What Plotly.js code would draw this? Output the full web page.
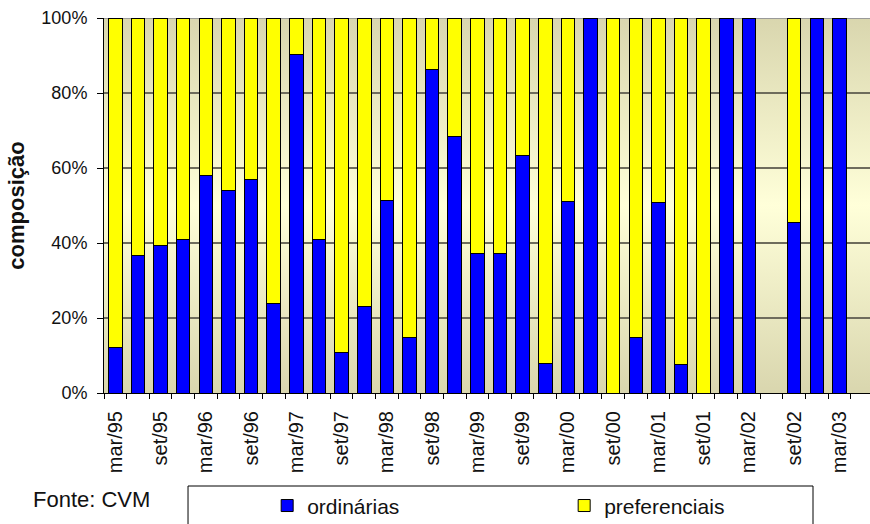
<!DOCTYPE html>
<html>
<head>
<meta charset="utf-8">
<script src="https://cdn.plot.ly/plotly-3.0.1.min.js"></script>
<style>
  html, body { margin: 0; padding: 0; background: #ffffff; }
  #wrap { position: relative; width: 870px; height: 524px; }
  #bg { position: absolute; left: 104px; top: 18px; width: 766px; height: 375px;
        background: linear-gradient(to bottom, #D9D6AE 0%, #FFFFD9 50%, #D9D6AE 100%); }
  #chart { position: absolute; left: 0; top: 0; width: 870px; height: 524px; }
</style>
</head>
<body>
<div id="wrap"><div id="bg"></div><div id="chart"></div></div>
<script>
// Quarterly categories
const categories = [
  "mar/95","jun/95","set/95","dez/95",
  "mar/96","jun/96","set/96","dez/96",
  "mar/97","jun/97","set/97","dez/97",
  "mar/98","jun/98","set/98","dez/98",
  "mar/99","jun/99","set/99","dez/99",
  "mar/00","jun/00","set/00","dez/00",
  "mar/01","jun/01","set/01","dez/01",
  "mar/02","jun/02","set/02","dez/02",
  "mar/03"
];
// Tick labels (only every second quarter is labelled)
const tickLabels = [
  "mar/95","","set/95","",
  "mar/96","","set/96","",
  "mar/97","","set/97","",
  "mar/98","","set/98","",
  "mar/99","","set/99","",
  "mar/00","","set/00","",
  "mar/01","","set/01","",
  "mar/02","","set/02","",
  "mar/03"
];
// Share (%) of ordinary shares
const ordinarias = [
  12.2, 36.7, 39.3, 40.9,
  58.0, 54.1, 56.9, 23.8,
  90.2, 40.9, 10.9, 23.1,
  51.4, 14.8, 86.4, 68.3,
  37.1, 37.1, 63.4, 8.0,
  51.0, 100, 0, 14.7,
  50.7, 7.5, 0, 100,
  100, null, 45.5, 100,
  100
];
// Share (%) of preferred shares
const preferenciais = [
  87.8, 63.3, 60.7, 59.1,
  42.0, 45.9, 43.1, 76.2,
  9.8, 59.1, 89.1, 76.9,
  48.6, 85.2, 13.6, 31.7,
  62.9, 62.9, 36.6, 92.0,
  49.0, 0, 100, 85.3,
  49.3, 92.5, 100, 0,
  0, null, 54.5, 0,
  0
];
const yTicks = [0, 20, 40, 60, 80, 100];
const yTickLabels = ["0%", "20%", "40%", "60%", "80%", "100%"];

const FONT = "Liberation Sans, Arial, sans-serif";

const traces = [
  {
    type: "bar", name: "ordinárias", x: categories, y: ordinarias,
    marker: { color: "#0000FF", line: { color: "#000000", width: 1 } },
    hoverinfo: "skip"
  },
  {
    type: "bar", name: "preferenciais", x: categories, y: preferenciais,
    marker: { color: "#FFFF00", line: { color: "#000000", width: 1 } },
    hoverinfo: "skip"
  }
];

const layout = {
  width: 870, height: 524,
  margin: { l: 104, r: 0, t: 18, b: 131, pad: 0, autoexpand: false },
  paper_bgcolor: "rgba(0,0,0,0)",
  plot_bgcolor: "rgba(0,0,0,0)",
  barmode: "stack",
  bargap: 0.4,
  font: { family: FONT, color: "#111111" },
  showlegend: true,
  legend: {
    orientation: "h",
    x: 0.213, xanchor: "left",
    y: -0.301, yanchor: "middle",
    bgcolor: "rgba(0,0,0,0)",
    borderwidth: 0,
    font: { family: FONT, size: 21, color: "#111111" },
    entrywidth: 252, entrywidthmode: "pixels",
    traceorder: "normal"
  },
  xaxis: {
    type: "category",
    range: [-0.5, 33.35],
    tickmode: "array", tickvals: categories, ticktext: tickLabels,
    tickson: "boundaries",
    ticks: "outside", ticklen: 5, tickcolor: "#000000", tickwidth: 1,
    tickangle: -90,
    ticklabelstandoff: 9,
    tickfont: { family: FONT, size: 20, color: "#111111" },
    showline: true, linecolor: "#000000", linewidth: 1,
    showgrid: false, zeroline: false, automargin: false, fixedrange: true
  },
  yaxis: {
    range: [0, 100],
    tickmode: "array", tickvals: yTicks, ticktext: yTickLabels,
    ticks: "outside", ticklen: 6, tickcolor: "#000000", tickwidth: 1,
    ticklabelstandoff: 6,
    tickfont: { family: FONT, size: 18, color: "#111111" },
    showline: true, linecolor: "#000000", linewidth: 1,
    showgrid: true, gridcolor: "#6E6C5C", gridwidth: 1.3,
    zeroline: false, automargin: false, fixedrange: true,
    title: { text: "composição", font: { family: FONT, size: 22, color: "#111111", weight: "bold" }, standoff: 10 }
  },
  shapes: [
    { type: "line", xref: "paper", yref: "y", x0: 0, x1: 1, y0: 100, y1: 100,
      line: { color: "#9A9A9A", width: 2 }, layer: "below" },
    { type: "rect", xref: "paper", yref: "paper",
      x0: 0.1097, x1: 0.9256, y0: -0.50, y1: -0.248,
      line: { color: "#000000", width: 1 }, fillcolor: "rgba(0,0,0,0)", layer: "above" }
  ],
  annotations: [
    { xref: "paper", yref: "paper", x: -0.016, y: -0.283, xanchor: "center", yanchor: "middle",
      text: "Fonte: CVM", showarrow: false,
      font: { family: FONT, size: 22, color: "#111111" } }
  ]
};

Plotly.newPlot("chart", traces, layout, { displayModeBar: false, staticPlot: true });
</script>
</body>
</html>
